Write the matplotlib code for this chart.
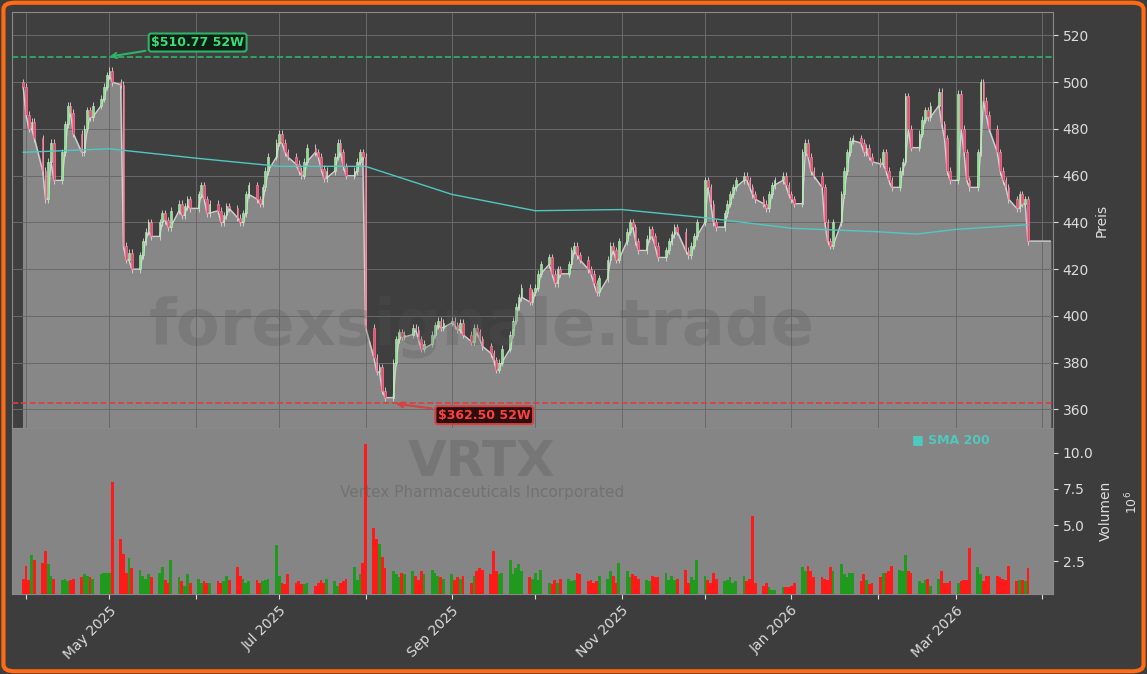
import numpy as np
import pandas as pd
import matplotlib
matplotlib.use("Agg")
import matplotlib.pyplot as plt
import matplotlib.dates as mdates
from matplotlib.patches import FancyBboxPatch

# daily closes per month (Mar 31 2025 .. Mar 27 2026)
apr = [498, 486, 480, 483, 476, 462, 450, 466, 474, 458, 470, 482, 490, 487, 478, 470, 480, 488, 485, 490, 493, 498, 503]
may = [505, 500, 499, 430, 424, 427, 420, 426, 432, 436, 440, 434, 440, 444, 441, 438, 445, 448, 443, 447, 450, 446]
jun = [452, 456, 450, 444, 448, 445, 440, 443, 447, 446, 442, 440, 444, 452, 456, 450, 448, 455, 462, 468, 474]
jul = [478, 474, 470, 468, 465, 462, 460, 466, 472, 470, 468, 463, 459, 462, 468, 474, 470, 464, 460, 462, 466, 470, 468]
aug = [395, 382, 376, 378, 368, 365, 380, 390, 393, 391, 392, 395, 394, 390, 386, 388, 392, 396, 398, 395, 397]
sep = [398, 396, 394, 397, 392, 389, 395, 393, 390, 387, 384, 381, 377, 380, 386, 392, 398, 404, 408, 412, 406, 410]
oct_ = [412, 418, 422, 425, 418, 414, 420, 418, 422, 428, 430, 426, 424, 420, 418, 414, 410, 416, 424, 430, 428, 424, 432]
nov = [436, 440, 438, 432, 428, 433, 437, 434, 430, 425, 428, 432, 435, 438, 436, 428, 426, 430, 434, 440]
dec = [458, 455, 448, 440, 438, 444, 448, 452, 455, 458, 460, 458, 455, 452, 450, 448, 446, 452, 456, 458, 460, 456, 452]
jan = [450, 448, 470, 474, 468, 462, 460, 455, 440, 432, 430, 440, 452, 462, 470, 475, 476, 474, 470, 472, 468, 466]
feb = [465, 470, 462, 458, 455, 462, 466, 494, 480, 472, 478, 484, 488, 485, 490, 496, 482, 476, 462, 458]
mar = [495, 480, 470, 458, 455, 470, 500, 492, 486, 480, 470, 462, 458, 455, 450, 446, 452, 448, 450, 432]
closes = apr + may + jun + jul + aug + sep + oct_ + nov + dec + jan + feb + mar
first_open = 500

# volume in millions per month
vol_apr = [1.3, 2.2, 1.2, 2.9, 2.6, 2.4, 3.2, 2.3, 1.5, 1.3, 1.2, 1.3, 1.1, 1.2, 1.3, 1.4, 1.6, 1.5, 1.4, 1.3, 1.6, 1.7, 1.7]
vol_may = [1.7, 8.0, 4.0, 3.0, 1.7, 2.7, 2.0, 1.9, 1.5, 1.3, 1.6, 1.4, 1.7, 2.1, 1.2, 1.0, 2.6, 1.4, 1.1, 0.8, 1.6, 1.0]
vol_jun = [1.3, 1.0, 1.1, 1.0, 1.0, 1.1, 1.0, 1.1, 1.5, 1.2, 2.1, 1.5, 1.3, 1.0, 1.1, 1.2, 1.0, 1.1, 1.2, 1.3, 3.6]
vol_jul = [1.5, 1.0, 0.9, 1.6, 1.0, 1.1, 0.9, 0.9, 1.0, 0.8, 1.0, 1.2, 1.0, 1.3, 1.1, 0.8, 1.0, 1.1, 1.3, 2.1, 1.2, 1.6, 2.4]
vol_aug = [10.6, 4.8, 4.0, 3.7, 2.8, 2.0, 1.8, 1.6, 1.4, 1.7, 1.6, 1.8, 1.5, 1.2, 1.8, 1.6, 1.9, 1.7, 1.5, 1.4, 1.3]
vol_sep = [1.6, 1.2, 1.4, 1.3, 1.5, 1.0, 1.5, 1.8, 2.0, 1.9, 1.6, 3.2, 1.8, 1.6, 1.7, 2.6, 1.6, 2.0, 2.3, 1.8, 1.4, 1.3]
vol_oct = [1.7, 1.2, 1.9, 1.0, 0.9, 1.2, 1.0, 1.3, 1.3, 1.1, 1.2, 1.7, 1.6, 1.1, 1.2, 1.0, 1.1, 1.5, 1.3, 1.8, 1.5, 1.0, 2.4]
vol_nov = [1.8, 1.4, 1.6, 1.5, 1.3, 1.2, 1.1, 1.5, 1.4, 1.4, 1.7, 1.2, 1.5, 1.2, 1.3, 1.9, 1.0, 1.4, 1.2, 2.6]
vol_dec = [1.5, 1.2, 1.0, 1.7, 1.3, 1.1, 1.2, 1.4, 1.0, 1.1, 1.5, 1.1, 1.3, 5.6, 1.0, 0.8, 1.0, 0.7, 0.5, 0.5, 0.7, 0.7, 0.7]
vol_jan = [0.8, 1.0, 2.1, 1.8, 2.2, 1.8, 1.4, 1.4, 1.3, 1.2, 2.1, 1.8, 2.3, 1.6, 1.4, 1.7, 1.7, 1.1, 1.6, 1.2, 0.9, 1.0]
vol_feb = [1.4, 1.7, 1.7, 1.8, 2.2, 1.9, 1.8, 2.9, 1.8, 1.7, 1.1, 1.0, 1.2, 1.3, 0.8, 1.3, 1.8, 1.0, 1.0, 1.1]
vol_mar = [1.0, 1.1, 1.2, 1.2, 3.4, 2.1, 1.6, 1.1, 1.5, 1.5, 1.5, 1.4, 1.3, 1.2, 2.2, 1.1, 1.2, 1.2, 1.1, 2.0]
volumes = (vol_apr + vol_may + vol_jun + vol_jul + vol_aug + vol_sep + vol_oct
           + vol_nov + vol_dec + vol_jan + vol_feb + vol_mar)

# SMA 200 read at a few dates
sma_dates = ["2025-03-31", "2025-05-01", "2025-06-01", "2025-07-01", "2025-08-01", "2025-09-01",
             "2025-10-01", "2025-11-01", "2025-12-01", "2026-01-01", "2026-02-01", "2026-02-15",
             "2026-03-01", "2026-03-27"]
sma_vals = [470, 471.5, 467.5, 464, 464, 452, 445, 445.5, 442, 437.5, 436, 435, 437, 439]

hi52_date, hi52 = "2025-04-30", 510.77
lo52_date, lo52 = "2025-08-11", 362.50

dates = pd.bdate_range("2025-03-31", periods=len(closes))
opens = [first_open] + closes[:-1]
x = mdates.date2num(dates)

BG = "#3d3d3d"
fig = plt.figure(figsize=(11.47, 6.74), dpi=100, facecolor=BG)
fig.patches.append(FancyBboxPatch((0.003, 0.004), 0.994, 0.992, boxstyle="round,pad=0,rounding_size=0.01",
                                  transform=fig.transFigure, fill=False, edgecolor="#ff6a13", linewidth=3))

ax = fig.add_axes([0.0105, 0.365, 0.9075, 0.617], facecolor="#3f3f3f")
axv = fig.add_axes([0.0105, 0.119, 0.9075, 0.246], facecolor="#858585", sharex=ax)

x0, x1 = mdates.date2num(pd.Timestamp("2025-03-27")), mdates.date2num(pd.Timestamp("2026-04-05"))
lows = np.minimum(opens, closes)
fx = np.append(x, x1 - 1)
fy = np.append(lows, closes[-1])
ax.fill_between(fx, fy, 352, color="#878787", zorder=1)
ax.plot(fx, fy, color="#cfcfcf", lw=1.0, zorder=2)

for xi, o, c in zip(x, opens, closes):
    up = c >= o
    face = "#8fe08f" if up else "#f04a74"
    edge = "#c8f0c8" if up else "#ff8fa8"
    b = max(abs(c - o), 0.6)
    ax.vlines(xi, min(o, c) - 1.5, max(o, c) + 1.5, color="#d8d8d8", lw=0.6, zorder=2.5)
    ax.bar(xi, b, bottom=min(o, c), width=0.6, color=face, edgecolor=edge, linewidth=0.4, zorder=3)

ax.plot(mdates.date2num(pd.to_datetime(sma_dates)), sma_vals, color="#4fc8c0", lw=1.0, zorder=4)

ax.axhline(hi52, color="#2fb36a", ls="--", lw=1.2, zorder=4)
ax.axhline(lo52, color="#d94040", ls="--", lw=1.2, zorder=4)
ax.annotate(f"${hi52:.2f} 52W", xy=(mdates.date2num(pd.Timestamp(hi52_date)), hi52),
            xytext=(mdates.date2num(pd.Timestamp("2025-05-16")), 515.5),
            color="#3ddc78", fontsize=9, fontweight="bold", zorder=6,
            bbox=dict(boxstyle="round,pad=0.2", fc="#0d1f14", ec="#2fb36a", lw=1.5),
            arrowprops=dict(arrowstyle="->", color="#2fb36a", lw=1.5))
ax.annotate(f"${lo52:.2f} 52W", xy=(mdates.date2num(pd.Timestamp(lo52_date)), lo52),
            xytext=(mdates.date2num(pd.Timestamp("2025-08-27")), 356),
            color="#ff4040", fontsize=9, fontweight="bold", zorder=6,
            bbox=dict(boxstyle="round,pad=0.2", fc="#2a0f0f", ec="#d94040", lw=1.5),
            arrowprops=dict(arrowstyle="->", color="#d94040", lw=1.5))

ax.set_xlim(x0, x1)
ax.set_ylim(352, 530)
ax.set_yticks(range(360, 521, 20))
ax.yaxis.tick_right()
ax.yaxis.set_label_position("right")
ax.set_ylabel("Preis", color="#dddddd", fontsize=10)
ax.grid(True, color="#6a6a6a", lw=0.7)
ax.tick_params(axis="x", labelbottom=False, length=0)
ax.tick_params(axis="y", colors="#dddddd", labelsize=10)
for s in ax.spines.values():
    s.set_color("#8a8a8a")

vcol = ["#1f9a1f" if c >= o else "#ff1a1a" for o, c in zip(opens, closes)]
axv.bar(x, volumes, width=1.0, color=vcol, zorder=3)
axv.set_ylim(0.25, 11.7)
axv.set_yticks([2.5, 5.0, 7.5, 10.0])
axv.yaxis.tick_right()
axv.yaxis.set_label_position("right")
axv.set_ylabel("Volumen", color="#dddddd", fontsize=10)
axv.text(1.068, 0.55, "$10^6$", transform=axv.transAxes, rotation=90, color="#dddddd",
         fontsize=9, va="center")
axv.tick_params(axis="y", colors="#dddddd", labelsize=10)
axv.tick_params(axis="x", colors="#dddddd", labelsize=10)
axv.xaxis.set_major_locator(mdates.MonthLocator())
axv.xaxis.set_major_formatter(plt.FuncFormatter(
    lambda v, p: mdates.num2date(v).strftime("%b %Y") if mdates.num2date(v).month % 2 == 1 else ""))
plt.setp(axv.get_xticklabels(), rotation=45, ha="right", rotation_mode="anchor")
for s in axv.spines.values():
    s.set_color("#8a8a8a")
axv.text(0.865, 0.93, "■ SMA 200", transform=axv.transAxes, color="#4fc8c0", fontsize=9,
         fontweight="bold", va="center")

fig.text(0.42, 0.515, "forexsignale.trade", fontsize=46, fontweight="bold", color="#555555",
         alpha=0.25, ha="center", va="center", zorder=10)
fig.text(0.42, 0.315, "VRTX", fontsize=36, fontweight="bold", color="#555555",
         alpha=0.3, ha="center", va="center", zorder=10)
fig.text(0.42, 0.27, "Vertex Pharmaceuticals Incorporated", fontsize=11, color="#555555",
         alpha=0.4, ha="center", va="center", zorder=10)

fig.savefig("out.png", dpi=100, facecolor=BG)
